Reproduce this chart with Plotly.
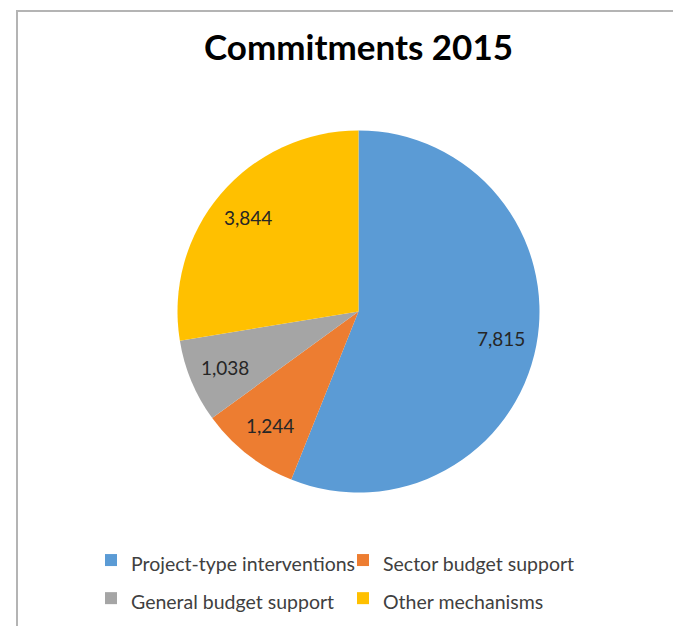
import math
import plotly.graph_objects as go

# ---- data ----
categories = ["Project-type interventions", "Sector budget support",
              "General budget support", "Other mechanisms"]
values = [7815, 1244, 1038, 3844]
colors = ["#5B9BD5", "#ED7D31", "#A5A5A5", "#FFC000"]
title_text = "Commitments 2015"

W, H = 681, 626
FONT = "Lato"
OFF = 8  # page body margin offset of the plot div

# pie geometry (figure pixels)
CX, CY, R = 358.5 - OFF, 311.5 - OFF, 181
LABEL_R = 0.8  # data labels placed at 80% of radius, along each slice's mid-angle

# legend labels rendered at a smaller size inside a taller legend row
legend_labels = [f"<span style='font-size:19.5px'>{c}</span>" for c in categories]

fig = go.Figure(go.Pie(
    labels=legend_labels,
    values=values,
    sort=False,
    direction="clockwise",
    rotation=0,
    marker=dict(colors=colors, line=dict(width=0)),
    textinfo="none",
    domain=dict(x=[(CX - R) / W, (CX + R) / W],
                y=[(H - CY - R) / H, (H - CY + R) / H]),
    hoverinfo="label+value",
))

# data labels derived from slice mid-angles
total = sum(values)
cum = 0
annotations = []
for v in values:
    mid = (cum + v / 2) / total * 2 * math.pi
    cum += v
    px = CX + LABEL_R * R * math.sin(mid)
    py = CY - LABEL_R * R * math.cos(mid)
    annotations.append(dict(x=px / W, y=1 - py / H, xref="paper", yref="paper",
                            text=f"{v:,}", showarrow=False,
                            xanchor="center", yanchor="middle",
                            font=dict(family=FONT, size=19, color="#262626")))

fig.update_layout(
    width=W, height=H,
    margin=dict(l=0, r=0, t=0, b=0),
    paper_bgcolor="white",
    plot_bgcolor="white",
    title=dict(text=title_text, x=CX / W, xanchor="center",
               y=1 - 40 / H, yanchor="middle", yref="container",
               font=dict(family=FONT, size=35, color="#000000", weight="bold")),
    showlegend=True,
    legend=dict(orientation="h", x=(131 - OFF - 40) / W, xanchor="left",
                y=11 / H, yanchor="bottom",
                entrywidth=207, entrywidthmode="pixels",
                font=dict(family=FONT, size=27, color="#404040"),
                bgcolor="rgba(0,0,0,0)"),
    annotations=annotations,
    shapes=[dict(type="rect", xref="paper", yref="paper",
                 x0=(17 - OFF) / W, x1=1.05, y0=-0.05, y1=1 - (11 - OFF) / H,
                 line=dict(color="#B4B4B4", width=2), fillcolor="rgba(0,0,0,0)",
                 layer="below")],
)

fig.write_html("out.html")
